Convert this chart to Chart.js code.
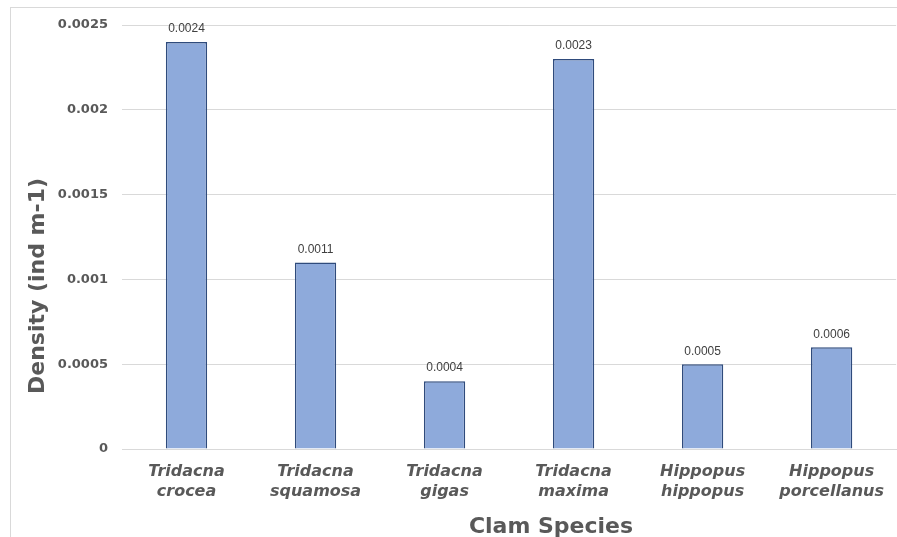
<!DOCTYPE html>
<html>
<head>
<meta charset="utf-8">
<script src="https://cdn.jsdelivr.net/npm/chart.js@4/dist/chart.umd.min.js"></script>
<style>
  html, body { margin: 0; padding: 0; background: #ffffff; }
  #wrap { width: 897px; height: 537px; position: relative; }
</style>
</head>
<body>
<div id="wrap"><canvas id="c" width="897" height="537"></canvas></div>
<script>
// Clam density by species
const speciesLabels = [
  ['Tridacna', 'crocea'],
  ['Tridacna', 'squamosa'],
  ['Tridacna', 'gigas'],
  ['Tridacna', 'maxima'],
  ['Hippopus', 'hippopus'],
  ['Hippopus', 'porcellanus']
];
const densityValues = [0.0024, 0.0011, 0.0004, 0.0023, 0.0005, 0.0006];
const yTickValues = [0, 0.0005, 0.001, 0.0015, 0.002, 0.0025];
const yAxisTitle = 'Density (ind m-1)';
const xAxisTitle = 'Clam Species';

const fmt = v => String(parseFloat(Number(v).toFixed(4)));
const TITLE_FONT = 'bold 22px "DejaVu Sans", Verdana, sans-serif';
const TEXT_GREY = '#595959';

// Light frame around the chart
const framePlugin = {
  id: 'frame',
  beforeDraw(chart) {
    const ctx = chart.ctx;
    ctx.save();
    ctx.fillStyle = '#ffffff';
    ctx.fillRect(0, 0, chart.width, chart.height);
    ctx.strokeStyle = '#d9d9d9';
    ctx.lineWidth = 1;
    ctx.strokeRect(10.5, 7.5, 1000, 1000);
    ctx.restore();
  }
};

// Axis titles, placed relative to the whole chart frame
const axisTitles = {
  id: 'axisTitles',
  afterDraw(chart) {
    const ctx = chart.ctx;
    ctx.save();
    ctx.font = TITLE_FONT;
    ctx.fillStyle = TEXT_GREY;
    ctx.textAlign = 'center';
    ctx.textBaseline = 'middle';
    ctx.fillText(xAxisTitle, 551, 527);
    ctx.translate(38, 286);
    ctx.rotate(-Math.PI / 2);
    ctx.fillText(yAxisTitle, 0, 0);
    ctx.restore();
  }
};

// Value written above each bar
const valueLabels = {
  id: 'valueLabels',
  afterDatasetsDraw(chart) {
    const ctx = chart.ctx;
    const meta = chart.getDatasetMeta(0);
    ctx.save();
    ctx.font = '12px "Liberation Sans", Arial, sans-serif';
    ctx.fillStyle = '#404040';
    ctx.textAlign = 'center';
    ctx.textBaseline = 'bottom';
    meta.data.forEach((bar, i) => {
      ctx.fillText(fmt(chart.data.datasets[0].data[i]), bar.x, bar.y - 7);
    });
    ctx.restore();
  }
};

new Chart(document.getElementById('c'), {
  type: 'bar',
  data: {
    labels: speciesLabels,
    datasets: [{
      data: densityValues,
      backgroundColor: '#8eaadb',
      borderColor: '#2f4b7c',
      borderWidth: 1.5,
      categoryPercentage: 1,
      barPercentage: 0.32
    }]
  },
  options: {
    responsive: false,
    animation: false,
    devicePixelRatio: 1,
    layout: { padding: { left: 10, top: 25, right: 0, bottom: 0 } },
    plugins: { legend: { display: false }, tooltip: { enabled: false } },
    scales: {
      y: {
        min: 0,
        max: 0.0025,
        afterFit(scale) { scale.width = 112; },
        afterBuildTicks(scale) { scale.ticks = yTickValues.map(v => ({ value: v })); },
        ticks: {
          callback: v => fmt(v),
          color: TEXT_GREY,
          padding: 14,
          font: { family: '"DejaVu Sans", Verdana, sans-serif', size: 13, weight: 'bold' }
        },
        grid: { color: '#d9d9d9', drawTicks: false, lineWidth: 1 },
        border: { display: false }
      },
      x: {
        afterFit(scale) { scale.height = 88; },
        ticks: {
          color: TEXT_GREY,
          padding: 13,
          maxRotation: 0,
          font: { family: '"DejaVu Sans", Verdana, sans-serif', size: 16, weight: 'bold', style: 'italic', lineHeight: 1.25 }
        },
        grid: { display: false, drawTicks: false },
        border: { display: true, color: '#d9d9d9', width: 1 }
      }
    }
  },
  plugins: [framePlugin, valueLabels, axisTitles]
});
</script>
</body>
</html>
